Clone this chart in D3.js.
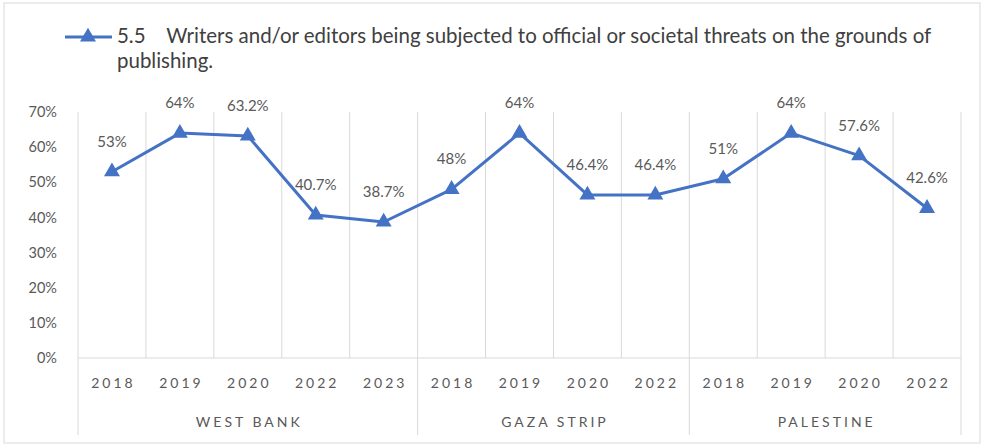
<!DOCTYPE html>
<html>
<head>
<meta charset="utf-8">
<script src="https://cdn.jsdelivr.net/npm/d3@7/dist/d3.min.js"></script>
<style>
  body { margin: 0; background: #fff; }
  text { font-family: Lato, "Open Sans", sans-serif; }
</style>
</head>
<body>
<div id="chart"></div>
<script>
const width = 986;
const height = 446;
const margin = { top: 112, right: 25, bottom: 88, left: 78 };
const innerWidth = width - margin.left - margin.right;
const innerHeight = height - margin.top - margin.bottom;

// data
const groups = ["WEST BANK", "GAZA STRIP", "PALESTINE"];
const westBankYears = ["2018", "2019", "2020", "2022", "2023"];
const westBankValues = [53, 64, 63.2, 40.7, 38.7];
const gazaYears = ["2018", "2019", "2020", "2022"];
const gazaValues = [48, 64, 46.4, 46.4];
const palestineYears = ["2018", "2019", "2020", "2022"];
const palestineValues = [51, 64, 57.6, 42.6];
const yTicks = [0, 10, 20, 30, 40, 50, 60, 70];
const seriesName = "5.5    Writers and/or editors being subjected to official or societal threats on the grounds of";
const seriesName2 = "publishing.";

const rows = [];
[[westBankYears, westBankValues], [gazaYears, gazaValues], [palestineYears, palestineValues]]
  .forEach((pair, gi) => {
    pair[0].forEach((yr, i) => rows.push({ group: groups[gi], year: yr, value: pair[1][i], key: rows.length }));
  });

const blue = "#4472C4";
const grid = "#d9d9d9";
const textGray = "#595959";

const svg = d3.select("#chart").append("svg")
  .attr("width", width)
  .attr("height", height);

// outer frame
svg.append("rect")
  .attr("x", 4).attr("y", 3)
  .attr("width", 976).attr("height", 440)
  .attr("fill", "#fff")
  .attr("stroke", grid);

const xScale = d3.scaleBand()
  .domain(rows.map(d => d.key))
  .range([0, innerWidth])
  .padding(0);

const yScale = d3.scaleLinear()
  .domain([0, 70])
  .range([innerHeight, 0]);

const g = svg.append("g")
  .attr("transform", `translate(${margin.left},${margin.top})`);

// vertical gridlines at category boundaries
const bounds = rows.map(d => xScale(d.key)).concat([innerWidth]);
g.append("g").selectAll("line")
  .data(bounds)
  .enter().append("line")
  .attr("x1", d => d).attr("x2", d => d)
  .attr("y1", yScale(70)).attr("y2", yScale(0))
  .attr("stroke", grid);

// group separators below the axis
const groupEdges = [0];
groups.forEach(gr => {
  const last = rows.filter(d => d.group === gr).slice(-1)[0];
  groupEdges.push(xScale(last.key) + xScale.bandwidth());
});
g.append("g").selectAll("line")
  .data(groupEdges)
  .enter().append("line")
  .attr("x1", d => d).attr("x2", d => d)
  .attr("y1", innerHeight).attr("y2", innerHeight + 77)
  .attr("stroke", grid);

// x axis line
g.append("line")
  .attr("x1", 0).attr("x2", innerWidth)
  .attr("y1", innerHeight).attr("y2", innerHeight)
  .attr("stroke", grid);

// y axis labels
g.append("g").selectAll("text")
  .data(yTicks)
  .enter().append("text")
  .attr("x", -21)
  .attr("y", d => yScale(d))
  .attr("dy", "0.35em")
  .attr("text-anchor", "end")
  .attr("fill", textGray)
  .style("font-size", "14.5px")
  .text(d => d + "%");

// year labels
g.append("g").selectAll("text")
  .data(rows)
  .enter().append("text")
  .attr("x", d => xScale(d.key) + xScale.bandwidth() / 2 + 1.5)
  .attr("y", innerHeight + 30)
  .attr("text-anchor", "middle")
  .attr("fill", textGray)
  .style("font-size", "14px")
  .style("letter-spacing", "3px")
  .text(d => d.year);

// group labels
g.append("g").selectAll("text")
  .data(groups)
  .enter().append("text")
  .attr("x", (d, i) => (groupEdges[i] + groupEdges[i + 1]) / 2 + 1.5)
  .attr("y", innerHeight + 69)
  .attr("text-anchor", "middle")
  .attr("fill", textGray)
  .style("font-size", "14px")
  .style("letter-spacing", "3px")
  .text(d => d);

// line
const cx = d => xScale(d.key) + xScale.bandwidth() / 2;
const line = d3.line().x(cx).y(d => yScale(d.value));
g.append("path")
  .datum(rows)
  .attr("d", line)
  .attr("fill", "none")
  .attr("stroke", blue)
  .attr("stroke-width", 3)
  .attr("stroke-linejoin", "round");

const tri = d3.symbol().type(d3.symbolTriangle).size(110);
g.append("g").selectAll("path")
  .data(rows)
  .enter().append("path")
  .attr("d", tri)
  .attr("transform", d => `translate(${cx(d)},${yScale(d.value)})`)
  .attr("fill", blue);

// data labels
g.append("g").selectAll("text")
  .data(rows)
  .enter().append("text")
  .attr("x", d => cx(d))
  .attr("y", d => yScale(d.value) - 25)
  .attr("text-anchor", "middle")
  .attr("fill", textGray)
  .style("font-size", "15px")
  .text(d => d.value + "%");

// legend
const legend = svg.append("g");
legend.append("line")
  .attr("x1", 65).attr("x2", 112)
  .attr("y1", 37).attr("y2", 37)
  .attr("stroke", blue).attr("stroke-width", 3);
legend.append("path")
  .attr("d", tri)
  .attr("transform", "translate(88,37)")
  .attr("fill", blue);
const leg1 = legend.append("text")
  .attr("x", 117).attr("y", 43)
  .attr("fill", "#404040")
  .style("font-size", "16px")
  .attr("xml:space", "preserve")
  .text(seriesName);
// size the first line so it ends where the reference's does
const w1 = leg1.node().getComputedTextLength();
const fs = 16 * 815 / w1;
leg1.style("font-size", fs + "px");
legend.append("text")
  .attr("x", 117).attr("y", 68)
  .attr("fill", "#404040")
  .style("font-size", fs + "px")
  .text(seriesName2);
</script>
</body>
</html>
